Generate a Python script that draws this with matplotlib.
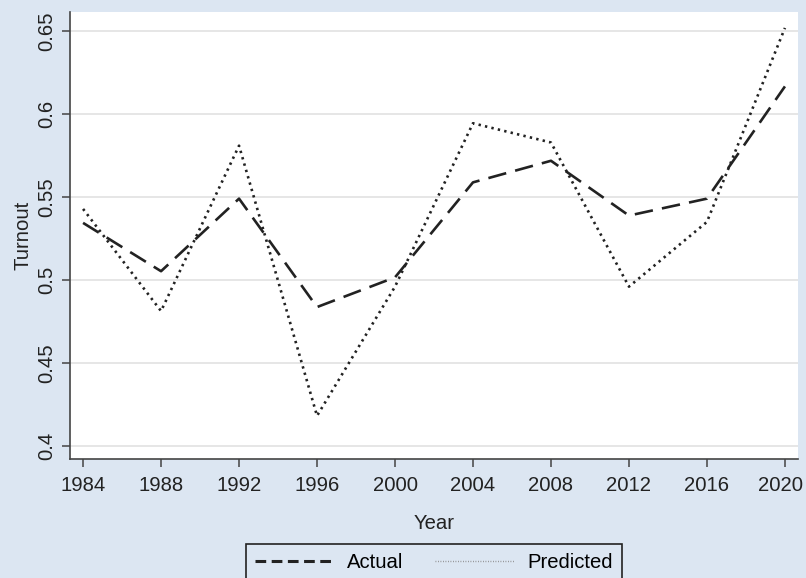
import matplotlib
matplotlib.use("Agg")
import matplotlib.pyplot as plt
from matplotlib.lines import Line2D
from matplotlib.transforms import ScaledTranslation

plt.rcParams['font.family'] = ['Liberation Sans', 'DejaVu Sans']

years = [1984, 1988, 1992, 1996, 2000, 2004, 2008, 2012, 2016, 2020]
actual = [0.5344, 0.5053, 0.5490, 0.4837, 0.5016, 0.5588, 0.5718, 0.5388, 0.5490, 0.6166]
predicted = [0.5428, 0.4813, 0.5809, 0.4182, 0.4960, 0.5944, 0.5828, 0.4960, 0.5350, 0.6518]
yticks = [0.4, 0.45, 0.5, 0.55, 0.6, 0.65]
ytick_labels = ["0.4", "0.45", "0.5", "0.55", "0.6", "0.65"]

bg = "#dce6f2"
fs = 14.6
fig = plt.figure(figsize=(8.06, 5.78), dpi=100, facecolor=bg)
ax = fig.add_axes([70/806, (578-459)/578, (798-70)/806, (459-12)/578])
ax.set_facecolor("white")

ax.plot(years, actual, color="#222222", linewidth=1.9, linestyle=(0, (7, 3.5)),
        label="Actual", dash_capstyle="butt")
ax.plot(years, predicted, color="#222222", linewidth=1.9, linestyle=(0, (0.9, 1.6)),
        label="Predicted")

ax.set_xlim(1983.33, 2020.67)
ax.set_ylim(0.3922, 0.6614)
ax.set_xticks(years)
ax.set_xticklabels([str(y) for y in years])
ax.set_yticks(yticks)
ax.set_yticklabels(ytick_labels, rotation=90, va="center")

ax.grid(axis="y", color="#e6e6e6", linewidth=1.4)
ax.set_axisbelow(True)
for s in ["top", "right"]:
    ax.spines[s].set_visible(False)
for s in ["left", "bottom"]:
    ax.spines[s].set_color("#444444")
    ax.spines[s].set_linewidth(1.2)

ax.tick_params(axis="both", labelsize=fs, colors="#444444", labelcolor="#222222",
               length=6, width=1.1, direction="out")
ax.tick_params(axis="y", pad=4)
ax.tick_params(axis="x", pad=6)

# nudge the last x tick label left so it stays within the figure, as in the reference
last = ax.get_xticklabels()[-1]
last.set_transform(last.get_transform() + ScaledTranslation(-4/100, 0, fig.dpi_scale_trans))

ax.set_xlabel("Year", fontsize=fs, color="#222222", labelpad=14)
ax.set_ylabel("Turnout", fontsize=fs, color="#222222", labelpad=3)

handles = [Line2D([], [], color="#222222", linewidth=2.2, linestyle=(0, (3.5, 1.8))),
           Line2D([], [], color="#888888", linewidth=1.0, linestyle=(0, (0.6, 1.2)))]
leg = fig.legend(handles, ["Actual", "Predicted"], loc="upper center",
                 bbox_to_anchor=(434/806, (578-544)/578), borderaxespad=0,
                 ncol=2, fontsize=fs,
                 frameon=True, fancybox=False, handlelength=3.95, columnspacing=1.55,
                 borderpad=0.45, handletextpad=0.6)
leg.get_frame().set_facecolor(bg)
leg.get_frame().set_edgecolor("#222222")
leg.get_frame().set_linewidth(1.2)
leg.get_frame().set_alpha(1)

fig.savefig("out.png", dpi=100, facecolor=bg)
